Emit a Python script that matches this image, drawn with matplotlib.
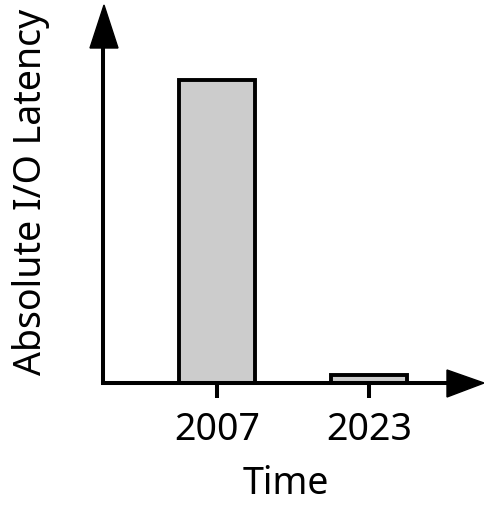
import matplotlib.pyplot as plt
from matplotlib.patches import Polygon
from matplotlib.lines import Line2D

years = ['2007', '2023']
latency = [100, 2.5]

plt.rcParams['font.family'] = ['Noto Sans', 'DejaVu Sans']

W, H = 484, 505
fig = plt.figure(figsize=(W / 100, H / 100), dpi=100)

def fx(px):
    return px / W

def fy(py):
    return 1 - py / H

# axes box: origin at pixel (103, 383)
ax = fig.add_axes([fx(103), fy(383), fx(484) - fx(103), fy(5) - fy(383)])
ax.bar(range(len(years)), latency, width=0.5, color='#cccccc',
       edgecolor='black', linewidth=2.8, zorder=3)
ax.set_xlim(-0.75, -0.75 + 381 / 152)
ax.set_ylim(0, 100 * 378 / 303)
for s in ax.spines.values():
    s.set_visible(False)
ax.set_yticks([])
ax.set_xticks(range(len(years)))
ax.set_xticklabels(years, fontsize=27)
ax.tick_params(axis='x', length=11, width=2.9, pad=9)

# axis lines with arrow heads
lw = 2.9
fig.add_artist(Line2D([fx(103), fx(103)], [fy(384), fy(40)], color='black', lw=lw,
                      solid_capstyle='butt'))
fig.add_artist(Line2D([fx(101), fx(450)], [fy(383), fy(383)], color='black', lw=lw,
                      solid_capstyle='butt'))
fig.add_artist(Polygon([[fx(90), fy(48)], [fx(118), fy(48)], [fx(104), fy(5)]],
                       closed=True, color='black'))
fig.add_artist(Polygon([[fx(447), fy(370)], [fx(447), fy(397)], [fx(484), fy(383)]],
                       closed=True, color='black'))

fig.text(fx(31), fy(192), 'Absolute I/O Latency', rotation=90,
         ha='center', va='center', fontsize=27)
fig.text(fx(286), fy(494), 'Time', ha='center', va='baseline', fontsize=27)

fig.savefig('out.png', dpi=100)
